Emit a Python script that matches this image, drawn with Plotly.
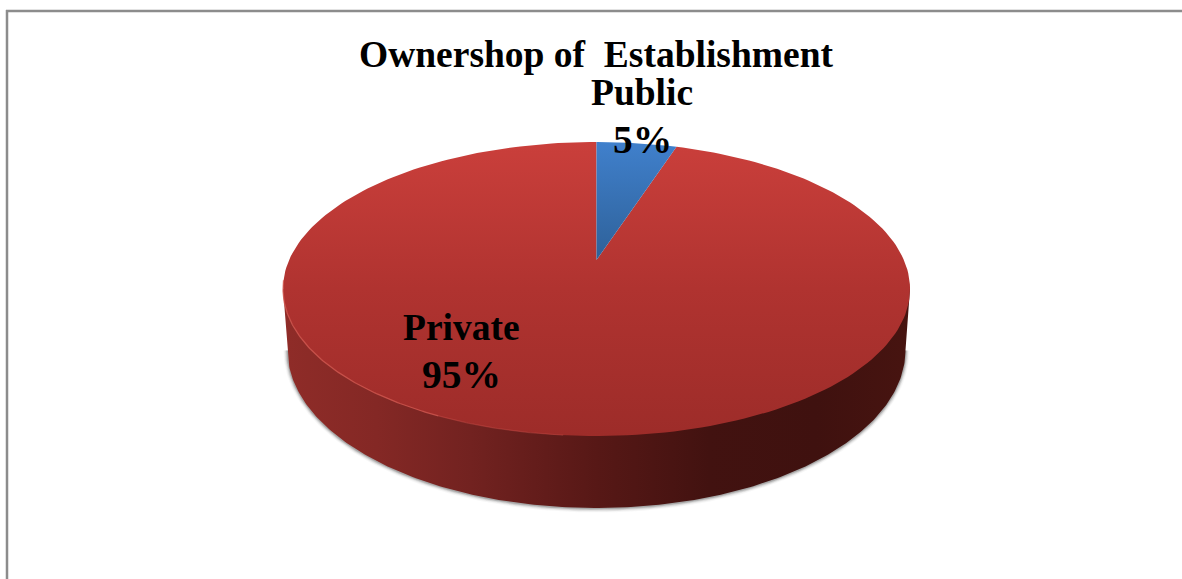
import numpy as np
import plotly.graph_objects as go

# Chart content
title_text = "Ownershop of\u00a0 Establishment"
categories = ["Public", "Private"]
shares = [5, 95]

# Layout of the tilted disc, in page pixels
WIDTH, HEIGHT = 1182, 579
APEX_X, APEX_Y = 596.5, 260.0
TILT = 0.197            # perspective strength of the disc
SPREAD_X, SPREAD_Y = 307.4, 141.3
TOP_Y, FRONT_Y = 142.0, 436.0
BASE_CY, BASE_RX, BASE_RY = 350.0, 309.0, 158.0
RIM_LEFT, RIM_RIGHT, RIM_Y = 283.0, 910.0, 289.0


def rim_point(angle_deg):
    """Project a clockwise-from-top angle on the disc rim to page pixels."""
    a = np.radians(angle_deg)
    w = 1 + TILT * np.cos(a)
    return APEX_X + SPREAD_X * np.sin(a) / w, APEX_Y - SPREAD_Y * np.cos(a) / w


def wedge(start_deg, end_deg):
    angles = np.linspace(start_deg, end_deg, 240)
    x, y = rim_point(angles)
    return (np.r_[APEX_X, x, APEX_X], np.r_[APEX_Y, y, APEX_Y])


def base_arc(grow=0.0, drop=0.0, n=240):
    t = np.linspace(np.pi, 0, n)
    return (APEX_X + (BASE_RX + grow) * np.cos(t),
            BASE_CY + drop + (BASE_RY + grow) * np.sin(t))


fig = go.Figure()

# Soft drop shadow under the base
for grow, alpha in [(4.0, 0.05), (3.0, 0.08), (2.2, 0.12), (1.4, 0.18), (0.7, 0.25)]:
    sx, sy = base_arc(grow, drop=0.5)
    fig.add_trace(go.Scatter(
        x=sx, y=sy, mode="lines", line=dict(width=0), fill="toself",
        fillcolor=f"rgba(90,90,90,{alpha})", hoverinfo="skip", showlegend=False,
    ))

# Side wall, darkening from left to right
bx, by = base_arc()
fig.add_trace(go.Scatter(
    x=np.r_[RIM_LEFT, bx, RIM_RIGHT], y=np.r_[RIM_Y, by, RIM_Y],
    mode="lines", line=dict(width=0), fill="toself",
    fillgradient=dict(
        type="horizontal", start=RIM_LEFT, stop=RIM_RIGHT,
        colorscale=[[0, "#8f2c28"], [0.15, "#842825"], [0.3, "#722220"],
                    [0.5, "#571816"], [0.68, "#421210"], [0.85, "#3f110f"], [1, "#471410"]],
    ),
    hoverinfo="skip", showlegend=False,
))

# Top face slices, clockwise from twelve o'clock
face_scales = {
    "Public": [[0, "#4080cc"], [0.40, "#2e6199"], [1, "#2e6199"]],
    "Private": [[0, "#ca3f3b"], [0.5, "#b03330"], [1, "#9d2c29"]],
}
draw_order = [1, 0]
edges = np.cumsum([0] + shares) / sum(shares) * 360
for i in draw_order:
    wx, wy = wedge(edges[i], edges[i + 1])
    fig.add_trace(go.Scatter(
        x=wx, y=wy, mode="lines", line=dict(width=0), fill="toself",
        fillgradient=dict(type="vertical", start=TOP_Y, stop=FRONT_Y,
                          colorscale=face_scales[categories[i]]),
        name=categories[i], hoverinfo="skip", showlegend=False,
    ))

# Light catching the front-left edge of the top face
hx, hy = rim_point(np.linspace(262, 205, 120))
fig.add_trace(go.Scatter(x=hx, y=hy, mode="lines",
                         line=dict(color="rgba(214,92,84,0.75)", width=1.3),
                         hoverinfo="skip", showlegend=False))
hx, hy = rim_point(np.linspace(205, 185, 60))
fig.add_trace(go.Scatter(x=hx, y=hy, mode="lines",
                         line=dict(color="rgba(205,80,74,0.4)", width=1.2),
                         hoverinfo="skip", showlegend=False))

# Slice labels: the name above its share, the share slightly larger
label_pos = {"Public": (642, 92, 140), "Private": (461.5, 327, 375)}
for name, share in zip(categories, shares):
    lx, name_y, share_y = label_pos[name]
    fig.add_annotation(x=lx, y=name_y, text=f"<b>{name}</b>", showarrow=False,
                       font=dict(family="Liberation Serif", size=37.5, color="#000000"),
                       xanchor="center", yanchor="middle")
    fig.add_annotation(x=lx, y=share_y, text=f"<b>{share}%</b>", showarrow=False,
                       font=dict(family="Liberation Serif", size=39.5, color="#000000"),
                       xanchor="center", yanchor="middle")

fig.update_layout(
    width=WIDTH, height=HEIGHT, margin=dict(l=0, r=0, t=0, b=0),
    paper_bgcolor="#ffffff", plot_bgcolor="#ffffff", showlegend=False,
    title=dict(text=f"<b>{title_text}</b>", x=596 / WIDTH, y=1 - 54 / HEIGHT,
               xanchor="center", yanchor="middle",
               font=dict(family="Liberation Serif", size=37.5, color="#000000")),
    xaxis=dict(range=[0, WIDTH], visible=False, fixedrange=True),
    yaxis=dict(range=[HEIGHT, 0], visible=False, fixedrange=True),
    font=dict(family="Liberation Serif"),
    shapes=[
        dict(type="line", x0=6, x1=WIDTH, y0=11, y1=11,
             line=dict(color="#8c8c8c", width=2.5)),
        dict(type="line", x0=7, x1=7, y0=10, y1=HEIGHT,
             line=dict(color="#8c8c8c", width=2.5)),
    ],
)

fig.write_html("out.html", config=dict(displayModeBar=False))
